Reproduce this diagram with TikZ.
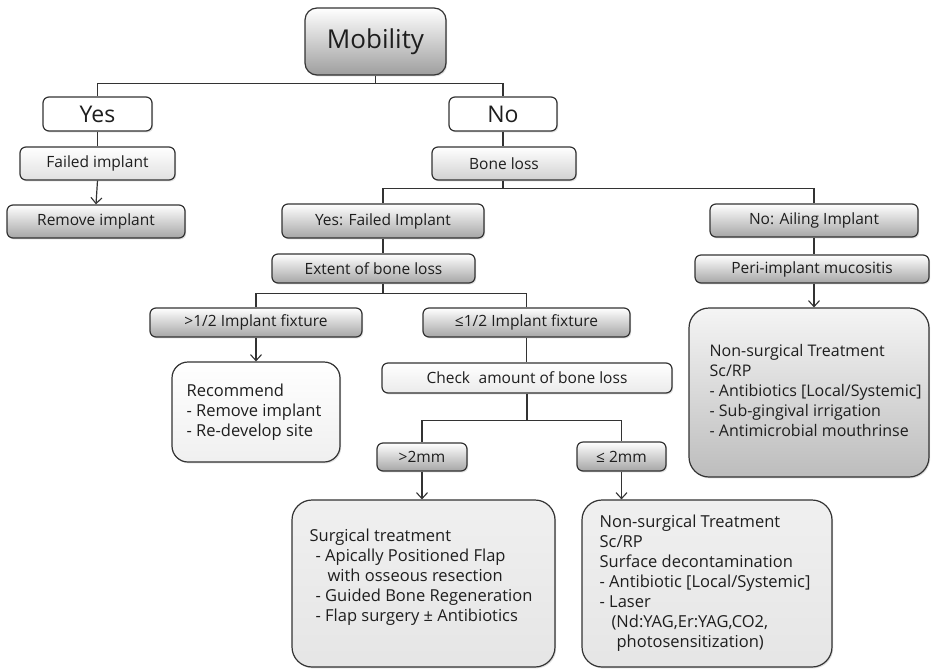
\documentclass[tikz,border=0pt]{standalone}
\usepackage{fontspec}
\setmainfont{Open Sans}
\usetikzlibrary{arrows.meta,shadows}
\definecolor{linec}{HTML}{333333}
\definecolor{txt}{HTML}{1E1E1E}
\tikzset{
  bx/.style={draw=linec, line width=1.2pt, rounded corners=6pt, inner sep=0pt,
    text=txt, font=\fontsize{15.5}{18}\selectfont,
    drop shadow={shadow xshift=1.2pt, shadow yshift=-1.4pt, opacity=0.25}},
  grad/.style={top color=white, bottom color=#1},
  big/.style={bx, rounded corners=20pt},
  bigtext/.style={anchor=west, align=left, inner sep=0pt, text=txt,
    font=\fontsize{16.5}{20}\selectfont},
  conn/.style={draw=linec, line width=1.2pt},
  arr/.style={conn, -{Straight Barb[length=6pt,width=11pt,line width=1.1pt]}},
}
\begin{document}
\begin{tikzpicture}[x=1pt,y=-1pt]
\useasboundingbox[fill=white] (0,0) rectangle (931,670);
% top
\node[bx, grad=black!38, rounded corners=12pt, minimum width=141pt, minimum height=67pt,
  font=\fontsize{26}{30}\selectfont] (mob) at (375.5,41.5) {Mobility};
\node[bx, fill=white, minimum width=109pt, minimum height=34pt,
  font=\fontsize{23}{26}\selectfont] (yes) at (97.5,114) {Yes};
\node[bx, fill=white, minimum width=108pt, minimum height=34pt,
  font=\fontsize{23}{26}\selectfont] (no) at (503,114) {No};
% left branch
\node[bx, grad=black!12, minimum width=155pt, minimum height=33pt] (fail) at (97.5,163.5) {Failed implant};
\node[bx, grad=black!35, minimum width=178pt, minimum height=33pt] (rem) at (96,221.5) {Remove implant};
% right branch
\node[bx, grad=black!18, minimum width=144pt, minimum height=33pt] (bone) at (504,163.5) {Bone loss};
\node[bx, grad=black!35, minimum width=202pt, minimum height=34pt] (yf) at (383,221) {Yes: Failed Implant};
\node[bx, grad=black!35, minimum width=208pt, minimum height=33pt] (na) at (814,220.5) {No: Ailing Implant};
\node[bx, grad=black!35, minimum width=203pt, minimum height=29pt] (ext) at (373.5,268.5) {Extent of bone loss};
\node[bx, grad=black!35, minimum width=234pt, minimum height=28pt] (peri) at (812,269) {Peri-implant mucositis};
\node[bx, grad=black!35, minimum width=212pt, minimum height=29pt] (gt) at (256,322.5) {>1/2 Implant fixture};
\node[bx, grad=black!35, minimum width=207pt, minimum height=29pt] (le) at (526.5,322.5) {≤1/2 Implant fixture};
\node[bx, grad=black!8, minimum width=290pt, minimum height=30pt] (chk) at (527,378) {Check\hspace{0.55em}amount of bone loss};
\node[bx, grad=black!35, minimum width=90pt, minimum height=28pt] (g2) at (422,457) {>2mm};
\node[bx, grad=black!35, minimum width=89pt, minimum height=29pt] (l2) at (621.5,456.5) {≤ 2mm};
% big boxes
\node[big, grad=black!6, rounded corners=16pt, minimum width=168pt, minimum height=100pt] (rec) at (256,412) {};
\node[bigtext] (recT) at ([xshift=15pt]rec.west)
  {Recommend\\- Remove implant\\- Re-develop site};
\node[big, top color=black!4, bottom color=black!26, minimum width=240pt, minimum height=169pt] (rbox) at (809,392.5) {};
\node[bigtext, font=\fontsize{16}{20}\selectfont] (rboxT) at ([xshift=21pt,yshift=2pt]rbox.west)
  {Non-surgical Treatment\\Sc/RP\\- Antibiotics [Local/Systemic]\\- Sub-gingival irrigation\\- Antimicrobial mouthrinse};
\node[big, top color=black!6, bottom color=black!10, minimum width=263pt, minimum height=167pt] (surg) at (423.5,583.5) {};
\node[bigtext] (surgT) at ([xshift=18pt,yshift=6pt]surg.west)
  {Surgical treatment\\
   \hspace{6pt}- Apically Positioned Flap\\
   \hspace{18pt}with osseous resection\\
   \hspace{6pt}- Guided Bone Regeneration\\
   \hspace{6pt}- Flap surgery ± Antibiotics};
\node[big, top color=black!6, bottom color=black!10, minimum width=250pt, minimum height=167pt] (nsb) at (707,583.5) {};
\node[bigtext] (nsbT) at ([xshift=18pt]nsb.west)
  {Non-surgical Treatment\\Sc/RP\\Surface decontamination\\- Antibiotic [Local/Systemic]\\- Laser\\
   \hspace{12pt}(Nd:YAG,Er:YAG,CO2,\\
   \hspace{17pt}photosensitization)};
% connectors
\draw[conn] (mob.south) -- ++(0,8) coordinate (j1) -| (yes.north);
\draw[conn] (j1) -| (no.north);
\draw[conn] (yes.south) -- (fail.north);
\draw[arr] (fail.south) -- (rem.north);
\draw[conn] (no.south) -- (no.south |- bone.north);
\draw[conn] (bone.south -| no.south) -- ++(0,8) coordinate (j2) -| (yf.north);
\draw[conn] (j2) -| (na.north);
\draw[conn] (yf.south) -- (yf.south |- ext.north);
\draw[conn] (yf.south |- ext.south) -- ++(0,10) coordinate (j3) -| (gt.north);
\draw[conn] (j3) -| (le.north);
\draw[arr] (gt.south) -- (gt.south |- rec.north);
\draw[conn] (le.south) -- (le.south |- chk.north);
\draw[conn] (chk.south) -- ++(0,27) coordinate (j4) -| (g2.north);
\draw[conn] (j4) -| (l2.north);
\draw[arr] (g2.south) -- (g2.south |- surg.north);
\draw[arr] (l2.south) -- (l2.south |- nsb.north);
\draw[conn] (na.south) -- (na.south |- peri.north);
\draw[arr] (peri.south -| na.south) -- (rbox.north -| na.south);
\end{tikzpicture}
\end{document}
